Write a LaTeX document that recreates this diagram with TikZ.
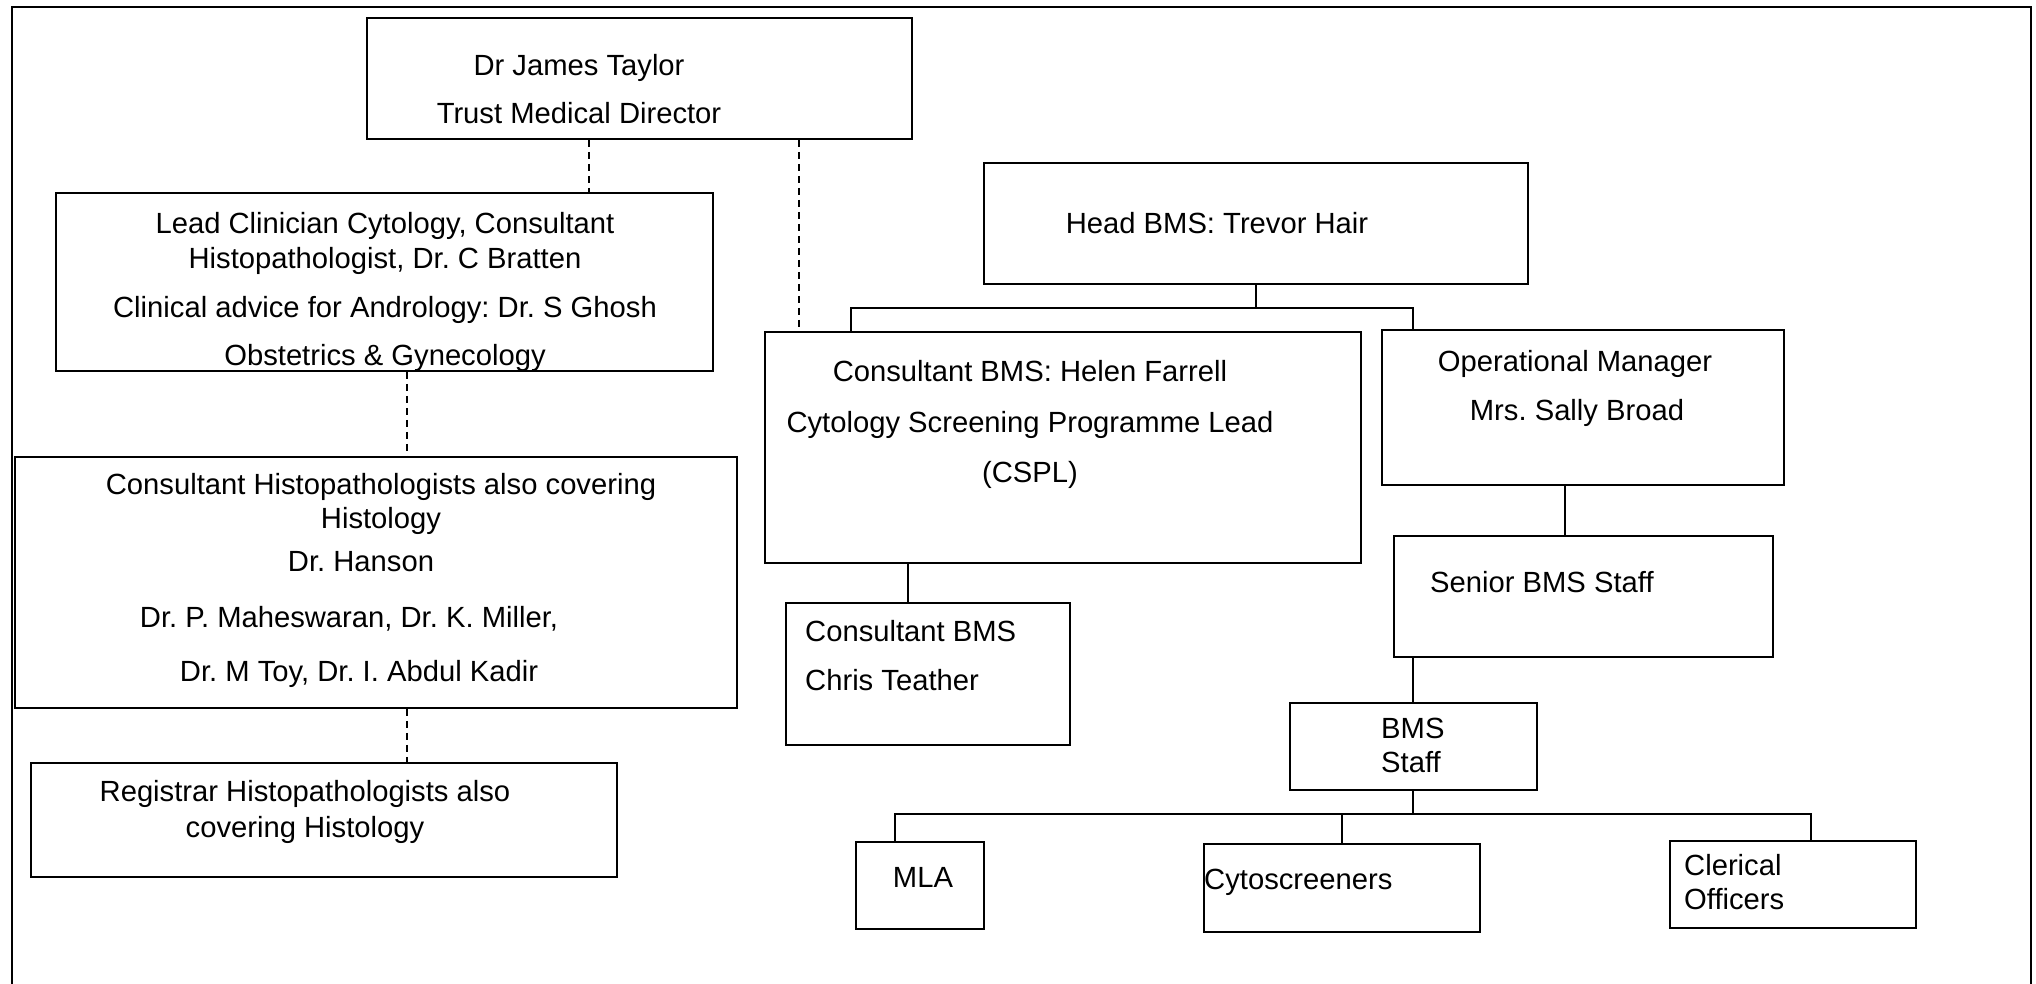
\documentclass[tikz,border=0pt]{standalone}
\usepackage{fontspec}
\setmainfont{Liberation Sans}
\frenchspacing
\begin{document}
\begin{tikzpicture}[x=1pt,y=-1pt,
 box/.style={draw,line width=1.6pt,inner sep=0pt,rectangle},
 ln/.style={line width=1.1pt},
 dsh/.style={line width=1.1pt,dash pattern=on 7pt off 5pt},
 txt/.style={inner sep=0pt,font=\fontsize{29.2}{35}\selectfont,anchor=mid,yshift=-8pt},
 txtl/.style={txt,anchor=mid west}]
\useasboundingbox (0,0) rectangle (2036,984);
\draw[line width=2pt] (12,7) rectangle (2031,1100);
% boxes
\node[box,minimum width=545pt,minimum height=121pt] (taylor) at (639.5,78.5) {};
\node[box,minimum width=657pt,minimum height=178pt] (lead) at (384.5,282) {};
\node[box,minimum width=722pt,minimum height=251pt] (chist) at (376,582.5) {};
\node[box,minimum width=586pt,minimum height=114pt] (reg) at (324,820) {};
\node[box,minimum width=544pt,minimum height=121pt] (head) at (1256,223.5) {};
\node[box,minimum width=596pt,minimum height=231pt] (helen) at (1063,447.5) {};
\node[box,minimum width=402pt,minimum height=155pt] (opm) at (1583,407.5) {};
\node[box,minimum width=379pt,minimum height=121pt] (senior) at (1583.5,596.5) {};
\node[box,minimum width=284pt,minimum height=142pt] (chris) at (928,674) {};
\node[box,minimum width=247pt,minimum height=87pt] (bms) at (1413.5,746.5) {};
\node[box,minimum width=128pt,minimum height=87pt] (mla) at (920,885.5) {};
\node[box,minimum width=276pt,minimum height=88pt] (cyto) at (1342,888) {};
\node[box,minimum width=246pt,minimum height=87pt] (cler) at (1793,884.5) {};
% texts
\node[txt] (t1) at (579,65) {Dr James Taylor};
\node[txt] (t2) at (579,113) {Trust Medical Director};
\node[txt] (t3) at (385,223) {Lead Clinician Cytology, Consultant};
\node[txt] (t4) at (385,258) {Histopathologist, Dr. C Bratten};
\node[txt] (t5) at (385,307) {Clinical advice for Andrology: Dr. S Ghosh};
\node[txt] (t6) at (385,355) {Obstetrics \& Gynecology};
\node[txt] (t7) at (381,484) {Consultant Histopathologists also covering};
\node[txt] (t8) at (381,518) {Histology};
\node[txt] (t9) at (361,561) {Dr. Hanson};
\node[txt] (t10) at (349,617) {Dr. P. Maheswaran, Dr. K. Miller,};
\node[txt] (t11) at (359,671) {Dr. M Toy, Dr. I. Abdul Kadir};
\node[txt] (t12) at (305,791) {Registrar Histopathologists also};
\node[txt] (t13) at (305,827) {covering Histology};
\node[txt] (t14) at (1217,223) {Head BMS: Trevor Hair};
\node[txt] (t15) at (1030,371) {Consultant BMS: Helen Farrell};
\node[txt] (t16) at (1030,422) {Cytology Screening Programme Lead};
\node[txt] (t17) at (1030,472) {(CSPL)};
\node[txt] (t18) at (1575,361) {Operational Manager};
\node[txt] (t19) at (1577,410) {Mrs. Sally Broad};
\node[txtl] (t20) at (1430,582) {Senior BMS Staff};
\node[txtl] (t21) at (805,631) {Consultant BMS};
\node[txtl] (t22) at (805,680) {Chris Teather};
\node[txtl] (t23) at (1381,728) {BMS};
\node[txtl] (t24) at (1381,762) {Staff};
\node[txt] (t25) at (923,877) {MLA};
\node[txtl] (t26) at (1204,879) {Cytoscreeners};
\node[txtl] (t27) at (1684,865) {Clerical};
\node[txtl] (t28) at (1684,899) {Officers};
% connectors
\coordinate (d1) at (589,0);
\coordinate (d2) at (799,0);
\coordinate (d3) at (407,0);
\draw[dsh] (taylor.south -| d1) -- (lead.north -| d1);
\draw[dsh] (taylor.south -| d2) -- (helen.north -| d2);
\draw[dsh] (lead.south -| d3) -- (chist.north -| d3);
\draw[dsh] (chist.south -| d3) -- (reg.north -| d3);
\coordinate (hbus) at (1256,308);
\coordinate (hl) at (851,308);
\coordinate (hr) at (1413,308);
\draw[ln] (head.south) -- (hbus);
\draw[ln] (helen.north -| hl) -- (hl) -- (hr) -- (opm.north -| hr);
\coordinate (c1) at (908,0);
\coordinate (c2) at (1565,0);
\coordinate (c3) at (1413,0);
\draw[ln] (helen.south -| c1) -- (chris.north -| c1);
\draw[ln] (opm.south -| c2) -- (senior.north -| c2);
\draw[ln] (senior.south -| c3) -- (bms.north -| c3);
\coordinate (bbus) at (1413,814);
\coordinate (bl) at (895,814);
\coordinate (br) at (1811,814);
\draw[ln] (bms.south -| bbus) -- (bbus);
\draw[ln] (mla.north -| bl) -- (bl) -- (br) -- (cler.north -| br);
\draw[ln] (cyto.north) -- (cyto.north |- bbus);
\end{tikzpicture}
\end{document}
